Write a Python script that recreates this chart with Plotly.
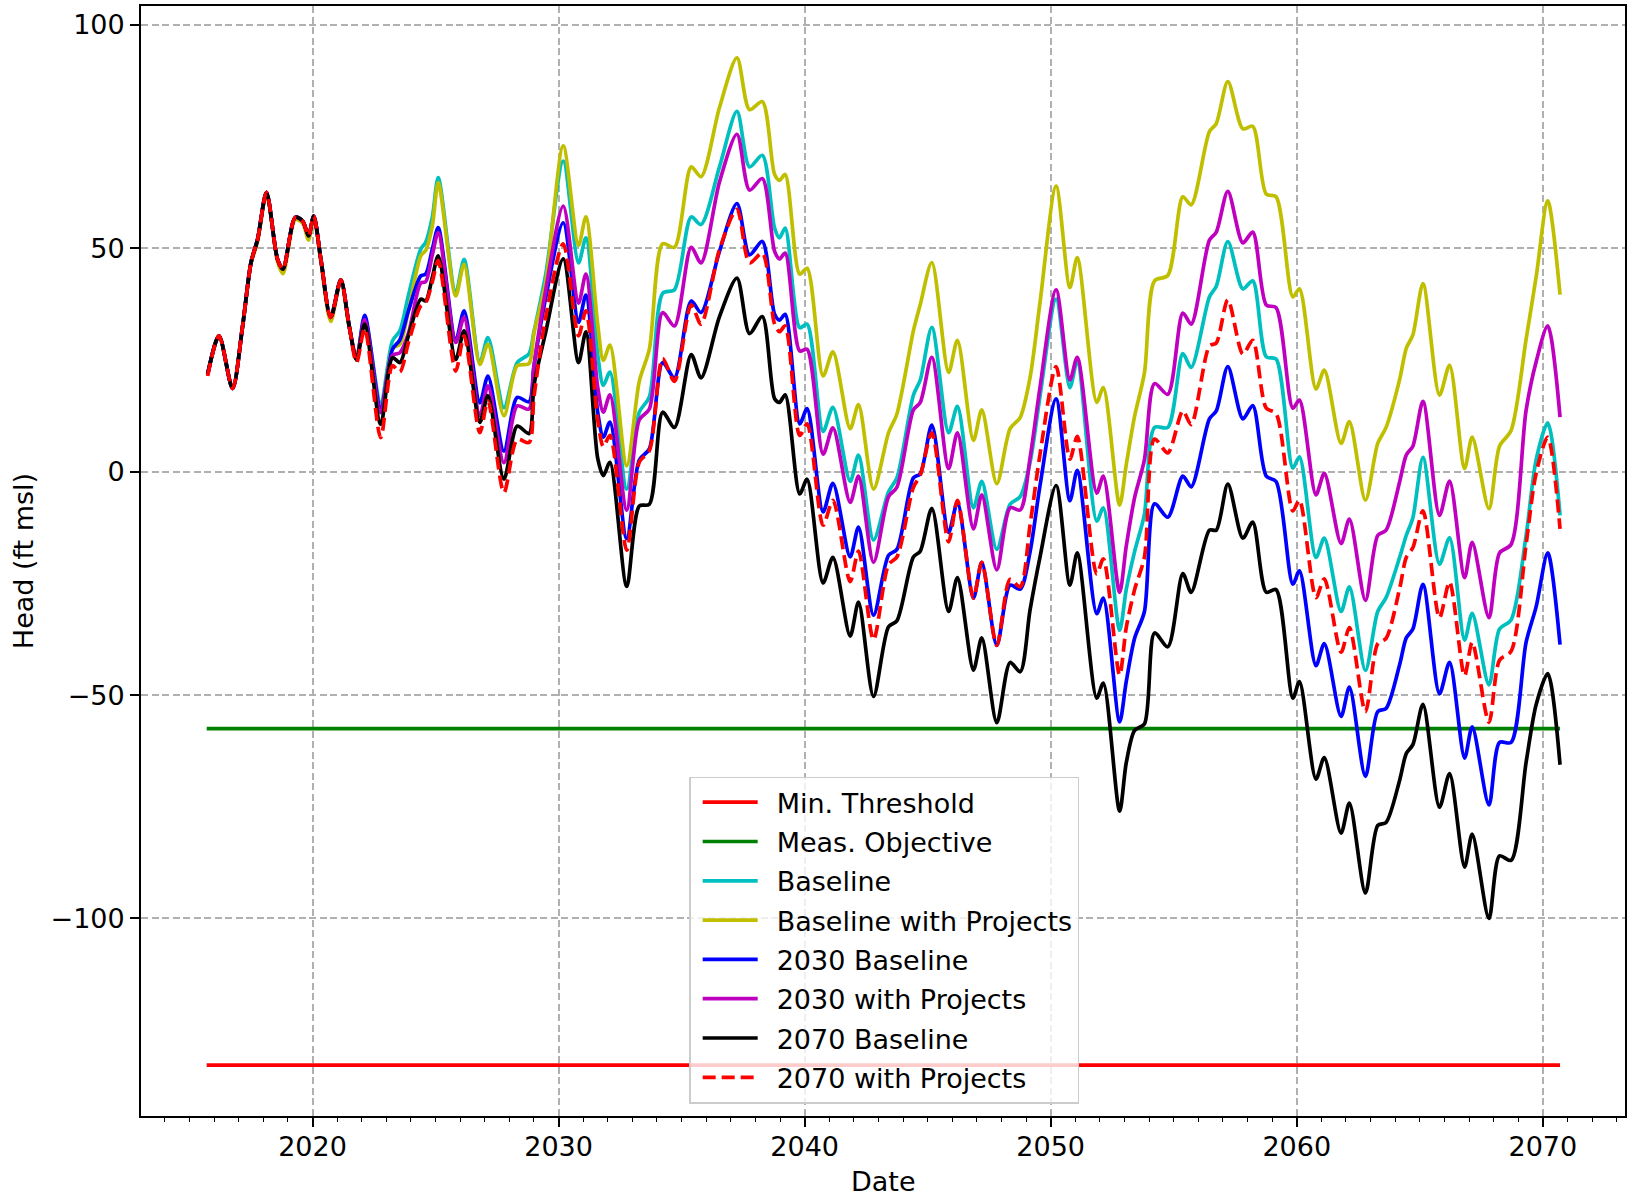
import plotly.graph_objects as go

# ---- time axis (decimal years) ----
years = [
    2015.74, 2016.2, 2016.75, 2017.16, 2017.5, 2017.77, 2018.13, 2018.58, 2018.8, 2019.3,
    2019.6, 2019.84, 2020.05, 2020.34, 2020.74, 2021.15, 2021.49, 2021.79,
    2022.12, 2022.77, 2023.25, 2023.55, 2023.9, 2024.4, 2024.6, 2024.87, 2025.11, 2025.82,
    2026.16, 2026.8, 2027.13, 2027.78, 2028.32, 2028.8, 2029.0, 2029.48, 2030.19, 2030.81,
    2031.11, 2031.59, 2031.82, 2032.09, 2032.77, 2033.28, 2033.69, 2034.23, 2034.71, 2035.39,
    2035.79, 2036.54, 2037.25, 2037.76, 2038.28, 2038.78, 2038.98, 2039.21, 2039.8, 2040.1,
    2040.75, 2041.15, 2041.85, 2042.19, 2042.8, 2043.41, 2043.75, 2044.42, 2044.7, 2045.17,
    2045.85, 2046.21, 2046.86, 2047.2, 2047.81, 2048.35, 2048.76, 2049.16, 2049.57, 2050.22,
    2050.78, 2051.08, 2051.87, 2052.14, 2052.8, 2053.07, 2053.41, 2053.81, 2054.22, 2054.76,
    2055.37, 2055.71, 2056.45, 2056.73, 2057.2, 2057.81, 2058.21, 2058.76, 2059.16, 2059.84,
    2060.11, 2060.78, 2061.12, 2061.8, 2062.14, 2062.79, 2063.29, 2063.63, 2064.18, 2064.45,
    2064.72, 2065.13, 2065.8, 2066.21, 2066.82, 2067.13, 2067.81, 2068.24, 2068.71, 2069.32,
    2069.73, 2070.2, 2070.7,
]

# ---- simulated head (ft msl) per scenario ----
baseline = [
    21.8, 30.4, 18.6, 32.6, 46.8, 52.0, 62.5, 47.5, 45.3, 56.9,
    56.1, 52.8, 57.2, 47.5, 34.5, 42.9, 32.6, 25.3,
    34.5, 15.4, 29.3, 31.5, 39.5, 49.8, 51.3, 57.0, 65.8, 40.0,
    47.5, 24.4, 30.0, 14.3, 24.4, 26.4, 31.3, 44.2, 69.5, 46.7,
    52.3, 26.2, 19.3, 22.3, -3.9, 13.3, 16.7, 39.9, 40.7, 57.0,
    55.3, 68.2, 80.6, 68.2, 70.8, 54.5, 52.3, 54.5, 32.2, 33.0,
    9.0, 14.4, -2.2, 3.7, -15.3, -4.5, -1.4, 17.1, 20.5, 32.3,
    8.7, 14.6, -8.1, -2.2, -17.4, -7.3, -5.6, 2.0, 17.0, 38.6,
    18.8, 24.7, -11.1, -8.1, -35.5, -26.4, -17.9, -9.5, 9.9, 9.9,
    26.4, 23.3, 39.1, 41.5, 51.5, 40.9, 42.7, 25.7, 25.2, 0.8,
    3.3, -19.2, -14.9, -31.3, -25.8, -44.5, -31.3, -28.2, -19.2, -14.3,
    -10.3, 3.2, -20.7, -14.8, -37.7, -31.7, -47.7, -35.2, -33.2, -14.3,
    2.7, 10.9, -9.8,
]

baseline_proj = [
    21.8, 30.4, 18.6, 32.6, 46.5, 51.5, 62.0, 47.0, 44.3, 56.4,
    55.6, 51.8, 56.8, 47.0, 33.6, 42.5, 32.3, 25.8,
    33.5, 14.0, 27.5, 28.5, 36.0, 48.3, 49.5, 55.0, 64.7, 39.3,
    46.4, 24.0, 28.5, 12.5, 23.7, 24.2, 31.0, 42.5, 72.9, 50.6,
    57.0, 33.0, 24.9, 28.3, 1.3, 20.2, 27.4, 51.0, 50.2, 68.2,
    66.0, 81.5, 92.6, 81.0, 82.8, 66.5, 65.2, 66.5, 44.2, 45.5,
    21.4, 26.8, 9.6, 15.0, -3.9, 8.7, 12.9, 31.5, 37.4, 46.8,
    22.2, 29.4, 7.0, 13.8, -2.7, 9.6, 12.1, 21.0, 38.0, 63.9,
    41.2, 47.9, 15.5, 18.8, -7.5, 1.5, 12.4, 22.1, 42.7, 43.9,
    61.5, 59.7, 76.1, 77.9, 87.3, 76.7, 77.3, 62.1, 61.5, 39.1,
    40.9, 18.5, 22.7, 6.3, 11.2, -6.4, 6.3, 9.9, 20.6, 27.6,
    30.6, 42.1, 17.1, 23.8, 0.7, 7.7, -8.3, 5.7, 9.2, 29.6,
    43.6, 60.6, 39.6,
]

base_2030 = [
    21.8, 30.4, 18.6, 32.6, 46.8, 52.0, 62.5, 47.5, 45.3, 56.9,
    56.1, 52.8, 57.2, 47.5, 34.5, 42.9, 32.6, 25.1,
    35.0, 14.3, 27.4, 29.5, 36.0, 43.8, 44.2, 49.8, 54.6, 29.3,
    36.0, 15.4, 21.4, 4.6, 16.6, 15.6, 23.6, 39.0, 55.7, 33.4,
    39.5, 13.3, 7.7, 11.1, -15.0, 2.6, 5.1, 24.4, 21.0, 38.2,
    35.6, 49.3, 60.0, 48.5, 51.5, 35.2, 33.9, 35.2, 10.7, 14.1,
    -9.0, -2.6, -19.1, -12.4, -32.1, -18.7, -17.4, -1.4, -0.5, 10.4,
    -13.6, -6.9, -28.3, -20.3, -38.9, -25.4, -26.3, -18.0, -3.0, 16.3,
    -6.5, 0.3, -31.8, -28.3, -56.0, -47.0, -37.3, -31.3, -7.2, -10.2,
    -1.0, -3.4, 11.8, 13.6, 23.5, 11.8, 14.8, -1.0, -2.2, -25.2,
    -22.2, -43.4, -38.5, -54.8, -48.2, -68.2, -53.7, -53.0, -43.2, -37.2,
    -35.2, -25.2, -49.7, -42.7, -64.1, -57.1, -74.6, -60.6, -60.6, -38.2,
    -30.2, -18.2, -38.7,
]

proj_2030 = [
    21.8, 30.4, 18.6, 32.6, 46.8, 52.0, 62.5, 47.5, 45.3, 56.9,
    56.1, 52.8, 57.2, 47.5, 34.5, 42.9, 32.6, 25.1,
    34.0, 13.2, 26.0, 26.6, 31.0, 42.2, 42.5, 48.5, 53.5, 28.9,
    34.5, 12.5, 19.2, 2.0, 14.7, 14.0, 23.6, 40.7, 59.4, 37.7,
    44.2, 18.9, 13.3, 17.2, -8.6, 11.6, 14.0, 35.6, 32.6, 50.2,
    46.7, 64.8, 75.5, 63.0, 65.6, 49.3, 47.6, 48.9, 27.0, 27.4,
    3.9, 9.8, -6.9, -1.0, -20.3, -5.6, -3.5, 13.8, 15.5, 25.6,
    0.7, 8.7, -12.8, -5.2, -22.0, -8.1, -8.6, 3.0, 19.0, 40.7,
    20.5, 25.6, -4.8, -1.0, -27.0, -16.7, -5.8, 2.7, 19.7, 17.3,
    35.5, 33.0, 51.8, 53.6, 62.7, 51.2, 53.6, 37.3, 36.7, 14.2,
    16.0, -5.2, -0.4, -16.1, -10.6, -28.8, -14.3, -13.1, -2.3, 3.7,
    5.7, 15.7, -9.8, -2.1, -23.7, -15.8, -32.7, -18.2, -16.3, 13.7,
    24.6, 32.6, 12.2,
]

base_2070 = [
    21.8, 30.4, 18.6, 32.6, 46.8, 52.0, 62.5, 47.5, 45.3, 56.9,
    56.1, 52.8, 57.2, 47.5, 34.5, 42.9, 32.6, 25.0,
    33.0, 10.6, 25.5, 24.4, 30.4, 38.6, 38.2, 43.5, 48.3, 25.1,
    31.5, 11.0, 17.0, -1.7, 10.2, 8.5, 19.3, 31.3, 47.6, 24.4,
    31.3, 3.0, -0.9, 2.1, -25.7, -7.7, -7.3, 13.3, 9.9, 26.2,
    21.0, 34.7, 43.3, 30.9, 34.7, 16.3, 15.5, 17.2, -5.0, -1.7,
    -24.9, -19.2, -36.8, -29.2, -50.3, -34.7, -33.4, -19.1, -17.8, -8.2,
    -31.3, -23.7, -44.4, -37.2, -56.2, -42.7, -44.8, -31.0, -19.0, -3.1,
    -25.4, -18.2, -50.7, -47.3, -76.0, -65.2, -57.9, -56.5, -36.1, -39.2,
    -22.8, -27.0, -13.1, -13.1, -2.8, -14.9, -11.3, -27.0, -26.4, -50.7,
    -47.0, -68.8, -64.0, -80.9, -74.2, -94.3, -79.2, -78.5, -69.1, -63.1,
    -61.1, -52.1, -75.1, -67.6, -88.5, -81.1, -100.0, -86.0, -87.0, -65.1,
    -52.1, -45.2, -65.6,
]

proj_2070 = [
    21.4, 30.4, 18.6, 32.6, 46.8, 52.0, 62.5, 47.5, 45.3, 56.9,
    56.1, 52.8, 57.2, 47.5, 34.5, 42.9, 32.6, 24.4,
    32.0, 7.6, 23.7, 22.3, 28.9, 37.1, 37.8, 42.5, 47.2, 22.5,
    30.4, 8.7, 15.8, -4.7, 7.2, 6.5, 16.7, 34.7, 51.0, 30.4,
    36.0, 11.6, 5.6, 8.1, -17.6, 2.1, 4.7, 25.3, 20.2, 37.3,
    33.0, 49.7, 58.7, 46.7, 48.9, 33.0, 31.3, 32.6, 8.1, 10.7,
    -12.0, -6.4, -24.6, -17.8, -37.6, -20.8, -19.1, -3.5, -0.8, 8.7,
    -15.7, -6.4, -28.3, -20.3, -38.9, -24.1, -25.8, -12.0, 4.0, 23.5,
    2.8, 7.9, -22.9, -19.5, -45.5, -34.9, -26.4, -19.1, 7.3, 4.2,
    13.6, 10.5, 28.1, 28.8, 38.5, 26.3, 29.4, 14.2, 13.0, -8.8,
    -6.4, -28.2, -24.0, -40.4, -34.9, -53.7, -38.5, -37.3, -26.2, -19.2,
    -17.0, -8.8, -32.7, -24.7, -45.7, -38.2, -56.1, -42.2, -40.2, -16.3,
    -0.3, 7.7, -12.8,
]

# ---- management levels ----
level_span = [2015.7, 2070.7]
min_threshold = -132.8
meas_objective = -57.5

x_ticks = [2020, 2030, 2040, 2050, 2060, 2070]
y_ticks = [-100, -50, 0, 50, 100]
y_ticklabels = ["\u2212100", "\u221250", "0", "50", "100"]

FONT = "DejaVu Sans"
FS = 27
LW = 3.7
PAD = "\u00a0\u2009"  # gap between legend line sample and label

fig = go.Figure()

fig.add_trace(go.Scatter(
    x=level_span, y=[min_threshold, min_threshold], mode="lines",
    name=PAD + "Min. Threshold", legendgroup="g1",
    line=dict(color="#ff0000", width=LW)))
fig.add_trace(go.Scatter(
    x=level_span, y=[meas_objective, meas_objective], mode="lines",
    name=PAD + "Meas. Objective", legendgroup="g2",
    line=dict(color="#008000", width=LW)))

series = [
    ("Baseline", baseline, "#00bfbf", "solid"),
    ("Baseline with Projects", baseline_proj, "#bfbf00", "solid"),
    ("2030 Baseline", base_2030, "#0000ff", "solid"),
    ("2030 with Projects", proj_2030, "#bf00bf", "solid"),
    ("2070 Baseline", base_2070, "#000000", "solid"),
    ("2070 with Projects", proj_2070, "#ff0000", "13px,6px"),
]
for i, (name, vals, color, dash) in enumerate(series):
    assert len(vals) == len(years), name
    fig.add_trace(go.Scatter(
        x=years, y=vals, mode="lines", name=PAD + name, legendgroup=f"s{i}",
        line=dict(color=color, width=LW, dash=dash, shape="spline", smoothing=0.8)))

axis_common = dict(
    showline=True, mirror=True, linecolor="black", linewidth=1.8,
    ticks="outside", ticklen=9, tickwidth=1.6, tickcolor="black",
    showgrid=True, gridcolor="#b0b0b0", gridwidth=1.6, griddash="7px,3.5px",
    zeroline=False,
    tickfont=dict(family=FONT, size=FS, color="black"),
)

fig.update_layout(
    width=1629, height=1196,
    margin=dict(l=141, r=2, t=6, b=80),
    paper_bgcolor="white", plot_bgcolor="white",
    font=dict(family=FONT, size=FS, color="black"),
    xaxis=dict(
        range=[2013.03, 2073.34], tickmode="array", tickvals=x_ticks,
        ticktext=[str(t) for t in x_ticks], ticklabelstandoff=-3,
        minor=dict(dtick=1, tick0=2013, ticks="outside", ticklen=4,
                   tickwidth=1.3, tickcolor="black", showgrid=False),
        **axis_common),
    yaxis=dict(
        range=[-144.2, 104.2], tickmode="array", tickvals=y_ticks,
        ticktext=y_ticklabels, **axis_common),
    legend=dict(
        x=0.3694, y=0.3057, xanchor="left", yanchor="top",
        bgcolor="rgba(255,255,255,0.8)", bordercolor="#cccccc", borderwidth=1.5,
        font=dict(family=FONT, size=FS, color="black"),
        itemwidth=55, indentation=7, tracegroupgap=1.2, traceorder="grouped"),
    showlegend=True,
    hovermode=False,
    annotations=[
        dict(text="Date", xref="paper", yref="paper", x=0.5, y=-0.0586,
             xanchor="center", yanchor="middle", showarrow=False,
             font=dict(family=FONT, size=FS, color="black")),
        dict(text="Head (ft msl)", xref="paper", yref="paper", x=-0.0794, y=0.5,
             xanchor="center", yanchor="middle", textangle=-90, showarrow=False,
             font=dict(family=FONT, size=FS, color="black")),
    ],
)

fig.write_html("out.html", config={"displayModeBar": False})
